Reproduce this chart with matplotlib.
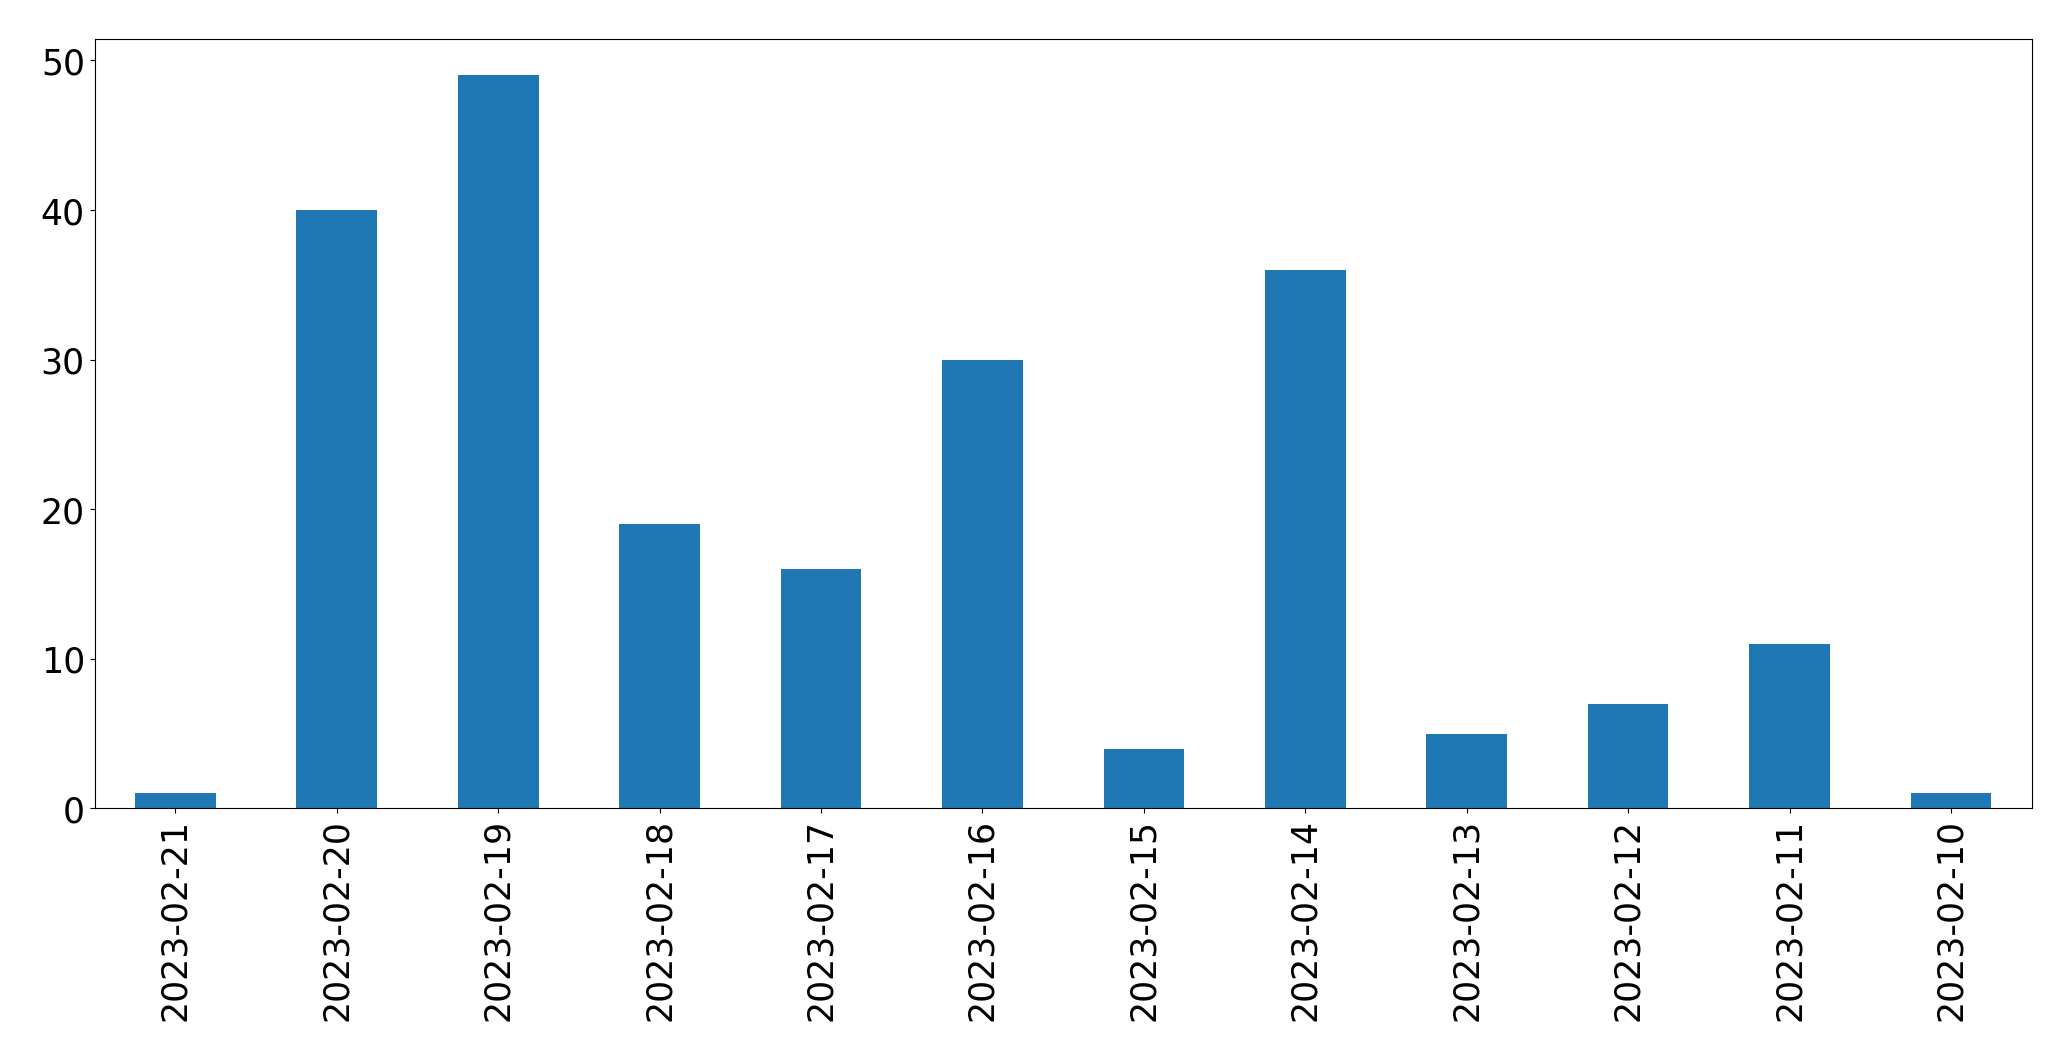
import matplotlib
matplotlib.use("Agg")
import matplotlib.pyplot as plt
import numpy as np

dates = ["2023-02-21", "2023-02-20", "2023-02-19", "2023-02-18", "2023-02-17",
         "2023-02-16", "2023-02-15", "2023-02-14", "2023-02-13", "2023-02-12",
         "2023-02-11", "2023-02-10"]
counts = [1, 40, 49, 19, 16, 30, 4, 36, 5, 7, 11, 1]

fig = plt.figure(figsize=(20.71, 10.605), dpi=100)
ax = fig.add_axes([0.0457, 0.2372, 0.981 - 0.0457, 0.963 - 0.2372])
x = np.arange(len(dates))
ax.bar(x, counts, width=0.5, color="#1f77b4")
ax.set_xlim(-0.5, len(dates) - 0.5)
ax.set_ylim(0, max(counts) * 1.05)
ax.set_xticks(x)
ax.set_xticklabels(dates, rotation=90)
ax.set_yticks([0, 10, 20, 30, 40, 50])
ax.tick_params(axis="both", labelsize=25)
fig.savefig("out.png", dpi=100)
